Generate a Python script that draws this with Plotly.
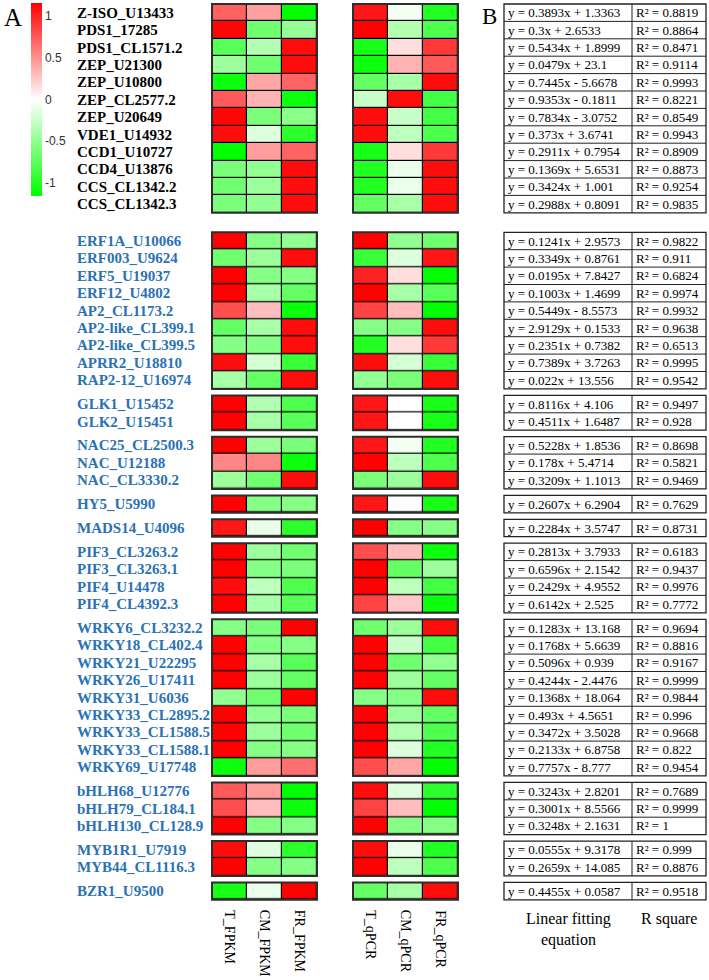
import plotly.graph_objects as go

# ---------------- data ----------------
genes = [
    "Z-ISO_U13433", "PDS1_17285", "PDS1_CL1571.2", "ZEP_U21300", "ZEP_U10800",
    "ZEP_CL2577.2", "ZEP_U20649", "VDE1_U14932", "CCD1_U10727", "CCD4_U13876",
    "CCS_CL1342.2", "CCS_CL1342.3",
    "ERF1A_U10066", "ERF003_U9624", "ERF5_U19037", "ERF12_U4802", "AP2_CL1173.2",
    "AP2-like_CL399.1", "AP2-like_CL399.5", "APRR2_U18810", "RAP2-12_U16974",
    "GLK1_U15452", "GLK2_U15451",
    "NAC25_CL2500.3", "NAC_U12188", "NAC_CL3330.2",
    "HY5_U5990",
    "MADS14_U4096",
    "PIF3_CL3263.2", "PIF3_CL3263.1", "PIF4_U14478", "PIF4_CL4392.3",
    "WRKY6_CL3232.2", "WRKY18_CL402.4", "WRKY21_U22295", "WRKY26_U17411",
    "WRKY31_U6036", "WRKY33_CL2895.2", "WRKY33_CL1588.5", "WRKY33_CL1588.1",
    "WRKY69_U17748",
    "bHLH68_U12776", "bHLH79_CL184.1", "bHLH130_CL128.9",
    "MYB1R1_U7919", "MYB44_CL1116.3",
    "BZR1_U9500",
]
group_sizes = [12, 9, 2, 3, 1, 1, 4, 9, 3, 2, 1]

fpkm_T = [0.72, 1.13, -0.75, -0.45, -1.10, 0.75, 1.13, 1.10, -1.15, -0.60, -0.65, -0.60,
          1.15, -0.65, 1.15, 1.15, 0.80, -0.70, -0.55, 1.10, -0.40,
          1.15, 1.15,
          1.15, 0.55, -0.45,
          1.15,
          1.05,
          1.15, 1.15, 1.10, 1.15,
          -0.55, 1.15, 1.15, 1.15, -0.50, 1.15, 1.15, 1.15, -1.10,
          0.75, 0.80, 1.15,
          1.10, 1.15,
          -1.05]
fpkm_CM = [0.43, -0.65, -0.35, -0.65, 0.40, 0.35, -0.60, -0.15, 0.45, -0.50, -0.45, -0.50,
           -0.55, -0.45, -0.55, -0.40, 0.30, -0.40, -0.55, -0.20, -0.70,
           -0.35, -0.40,
           -0.45, 0.55, -0.65,
           -0.55,
           -0.10,
           -0.45, -0.55, -0.30, -0.40,
           -0.60, -0.55, -0.40, -0.45, -0.65, -0.50, -0.45, -0.55, 0.45,
           0.45, 0.30, -0.55,
           -0.15, -0.55,
           -0.10]
fpkm_FR = [-1.15, -0.48, 1.10, 1.10, 0.70, -1.10, -0.53, -0.95, 0.70, 1.10, 1.10, 1.10,
           -0.50, 1.10, -0.55, -0.70, -1.10, 1.10, 1.10, -0.90, 1.10,
           -0.80, -0.75,
           -0.60, -1.10, 1.10,
           -0.55,
           -0.95,
           -0.65, -0.60, -0.80, -0.75,
           1.15, -0.55, -0.75, -0.70, 1.15, -0.60, -0.65, -0.55, 0.65,
           -1.15, -1.10, -0.55,
           -0.95, -0.55,
           1.15]

qpcr_T = [1.05, 1.15, -1.05, -1.10, -0.70, -0.25, 1.10, 1.10, -1.05, -1.00, -1.00, -0.70,
          1.15, -0.90, 1.00, 1.15, 0.85, -0.55, -1.00, 1.10, -0.50,
          1.05, 1.05,
          1.05, 1.15, -0.60,
          1.05,
          1.15,
          0.80, 1.15, 1.15, 0.85,
          -0.65, 1.15, 1.15, 1.15, -0.55, 1.15, 1.15, 1.15, 0.80,
          1.10, 0.85, 1.15,
          1.10, 1.15,
          -0.70]
qpcr_CM = [-0.05, -0.35, 0.15, 0.35, -0.40, 1.10, -0.25, -0.30, 0.15, -0.10, -0.10, -0.40,
           -0.50, -0.15, 0.15, -0.40, 0.30, -0.55, 0.15, -0.20, -0.60,
           0.00, 0.00,
           -0.05, -0.30, -0.45,
           0.00,
           -0.55,
           0.30, -0.70, -0.30, 0.25,
           -0.45, -0.25, -0.65, -0.45, -0.55, -0.45, -0.35, -0.15, 0.40,
           -0.15, 0.30, -0.55,
           -0.10, -0.30,
           -0.40]
qpcr_FR = [-1.00, -0.80, 0.90, 0.75, 1.10, -0.85, -0.85, -0.80, 0.90, 1.10, 1.10, 1.10,
           -0.65, 1.05, -1.15, -0.75, -1.15, 1.10, 0.90, -0.90, 1.10,
           -1.05, -1.05,
           -1.00, -0.80, 1.10,
           -1.05,
           -0.55,
           -1.10, -0.45, -0.85, -1.10,
           1.10, -0.85, -0.50, -0.70, 1.10, -0.70, -0.80, -1.00, -1.15,
           -0.95, -1.15, -0.55,
           -1.00, -0.80,
           1.10]

samples_fpkm = ["T_FPKM", "CM_FPKM", "FR_FPKM"]
samples_qpcr = ["T_qPCR", "CM_qPCR", "FR_qPCR"]

equations = [
    "y = 0.3893x + 1.3363", "y = 0.3x + 2.6533", "y = 0.5434x + 1.8999", "y = 0.0479x + 23.1",
    "y = 0.7445x - 5.6678", "y = 0.9353x - 0.1811", "y = 0.7834x - 3.0752", "y = 0.373x + 3.6741",
    "y = 0.2911x + 0.7954", "y = 0.1369x + 5.6531", "y = 0.3424x + 1.001", "y = 0.2988x + 0.8091",
    "y = 0.1241x + 2.9573", "y = 0.3349x + 0.8761", "y = 0.0195x + 7.8427", "y = 0.1003x + 1.4699",
    "y = 0.5449x - 8.5573", "y = 2.9129x + 0.1533", "y = 0.2351x + 0.7382", "y = 0.7389x + 3.7263",
    "y = 0.022x + 13.556",
    "y = 0.8116x + 4.106", "y = 0.4511x + 1.6487",
    "y = 0.5228x + 1.8536", "y = 0.178x + 5.4714", "y = 0.3209x + 1.1013",
    "y = 0.2607x + 6.2904",
    "y = 0.2284x + 3.5747",
    "y = 0.2813x + 3.7933", "y = 0.6596x + 2.1542", "y = 0.2429x + 4.9552", "y = 0.6142x + 2.525",
    "y = 0.1283x + 13.168", "y = 0.1768x + 5.6639", "y = 0.5096x + 0.939", "y = 0.4244x - 2.4476",
    "y = 0.1368x + 18.064", "y = 0.493x + 4.5651", "y = 0.3472x + 3.5028", "y = 0.2133x + 6.8758",
    "y = 0.7757x - 8.777",
    "y = 0.3243x + 2.8201", "y = 0.3001x + 8.5566", "y = 0.3248x + 2.1631",
    "y = 0.0555x + 9.3178", "y = 0.2659x + 14.085",
    "y = 0.4455x + 0.0587",
]
r_squared = [
    "0.8819", "0.8864", "0.8471", "0.9114", "0.9993", "0.8221", "0.8549", "0.9943",
    "0.8909", "0.8873", "0.9254", "0.9835",
    "0.9822", "0.911", "0.6824", "0.9974", "0.9932", "0.9638", "0.6513", "0.9995", "0.9542",
    "0.9497", "0.928",
    "0.8698", "0.5821", "0.9469",
    "0.7629",
    "0.8731",
    "0.6183", "0.9437", "0.9976", "0.7772",
    "0.9694", "0.8816", "0.9167", "0.9999", "0.9844", "0.996", "0.9668", "0.822", "0.9454",
    "0.7689", "0.9999", "1",
    "0.999", "0.8876",
    "0.9518",
]
colorbar_ticks = [-1, -0.5, 0, 0.5, 1]

# ---------------- layout constants ----------------
W, H = 709, 980
ROW_H = 17.4
TOP = 4.0
FIRST_GAP = 19.5
GAP = 6.5
CELL_W = 35.0
HM_X = [212.0, 353.0]
TAB_X0, TAB_XM, TAB_X1 = 504.0, 632.0, 706.0
LABEL_X = 75.0
SERIF = "Times New Roman, Liberation Serif, serif"
BLUE = "#2a72b5"
ZMAX = 1.155

tops = []
y = TOP
for gi, n in enumerate(group_sizes):
    tops.append(y)
    y += n * ROW_H + (FIRST_GAP if gi == 0 else GAP)

fig = go.Figure()
shapes = []
annotations = []

panels = [(HM_X[0], [fpkm_T, fpkm_CM, fpkm_FR]), (HM_X[1], [qpcr_T, qpcr_CM, qpcr_FR])]

start = 0
for gi, n in enumerate(group_sizes):
    top = tops[gi]
    bottom = top + n * ROW_H
    idx = list(range(start, start + n))
    for px, cols in panels:
        z = [[cols[c][i] for c in range(3)] for i in idx]
        x1 = px + 3 * CELL_W
        shapes.append(dict(type="rect", xref="x", yref="y", x0=px, x1=x1, y0=top, y1=bottom,
                           fillcolor="black", line=dict(width=0), layer="below"))
        fig.add_trace(go.Heatmap(
            z=z, x0=px + CELL_W / 2, dx=CELL_W, y0=top + ROW_H / 2, dy=ROW_H,
            coloraxis="coloraxis", xgap=1.2, ygap=1.2,
            hovertemplate="%{z}<extra></extra>"))
        shapes.append(dict(type="rect", xref="x", yref="y", x0=px, x1=x1, y0=top, y1=bottom,
                           line=dict(color="#2e2e2e", width=2), layer="above"))
    # gene labels
    color = "black" if gi == 0 else BLUE
    for r, i in enumerate(idx):
        annotations.append(dict(
            x=LABEL_X, y=top + ROW_H * (r + 0.5), xref="x", yref="y",
            text="<b>%s</b>" % genes[i], showarrow=False, xanchor="left", yanchor="middle",
            font=dict(family=SERIF, size=15, color=color)))
    # table
    shapes.append(dict(type="rect", xref="x", yref="y", x0=TAB_X0, x1=TAB_X1, y0=top, y1=bottom,
                       line=dict(color="#222", width=1.3)))
    shapes.append(dict(type="line", xref="x", yref="y", x0=TAB_XM, x1=TAB_XM, y0=top, y1=bottom,
                       line=dict(color="#222", width=1)))
    for r in range(1, n):
        yy = top + r * ROW_H
        shapes.append(dict(type="line", xref="x", yref="y", x0=TAB_X0, x1=TAB_X1, y0=yy, y1=yy,
                           line=dict(color="#222", width=1)))
    for r, i in enumerate(idx):
        yc = top + ROW_H * (r + 0.5)
        annotations.append(dict(x=TAB_X0 + 1.5, y=yc, xref="x", yref="y", text=equations[i],
                                showarrow=False, xanchor="left", yanchor="middle",
                                font=dict(family=SERIF, size=13, color="black")))
        annotations.append(dict(x=TAB_XM + 1.5, y=yc, xref="x", yref="y", text="R² = " + r_squared[i],
                                showarrow=False, xanchor="left", yanchor="middle",
                                font=dict(family=SERIF, size=13, color="black")))
    start += n

last_bottom = tops[-1] + group_sizes[-1] * ROW_H

# sample labels (rotated)
for px, names in [(HM_X[0], samples_fpkm), (HM_X[1], samples_qpcr)]:
    for c, name in enumerate(names):
        annotations.append(dict(x=px + CELL_W * (c + 0.5), y=last_bottom + 8, xref="x", yref="y",
                                text=name, textangle=90, showarrow=False,
                                xanchor="center", yanchor="top",
                                font=dict(family=SERIF, size=14, color="black")))

annotations.append(dict(x=(TAB_X0 + TAB_XM) / 2, y=last_bottom + 8, xref="x", yref="y",
                        text="Linear fitting<br>equation", showarrow=False, xanchor="center",
                        yanchor="top", align="center",
                        font=dict(family=SERIF, size=16, color="black")))
annotations.append(dict(x=(TAB_XM + TAB_X1) / 2, y=last_bottom + 8, xref="x", yref="y",
                        text="R square", showarrow=False, xanchor="center", yanchor="top",
                        font=dict(family=SERIF, size=16, color="black")))

# panel letters
annotations.append(dict(x=2, y=2, xref="x", yref="y", text="A", showarrow=False,
                        xanchor="left", yanchor="top", font=dict(family=SERIF, size=25, color="black")))
annotations.append(dict(x=480, y=2, xref="x", yref="y", text="B", showarrow=False,
                        xanchor="left", yanchor="top", font=dict(family=SERIF, size=23, color="black")))

fig.update_layout(
    width=W, height=H, margin=dict(l=0, r=0, t=0, b=0),
    paper_bgcolor="white", plot_bgcolor="white",
    xaxis=dict(range=[0, W], visible=False, fixedrange=True),
    yaxis=dict(range=[H, 0], visible=False, fixedrange=True),
    coloraxis=dict(
        cmin=-ZMAX, cmax=ZMAX,
        colorscale=[[0, "rgb(0,255,0)"], [0.5, "rgb(255,255,255)"], [1, "rgb(255,0,0)"]],
        colorbar=dict(
            x=31 / W, xanchor="left", y=1 - 3 / H, yanchor="top",
            len=193, lenmode="pixels", thickness=11, thicknessmode="pixels",
            outlinewidth=0, xpad=0, ypad=0, ticks="",
            tickvals=colorbar_ticks, ticktext=[str(t) for t in colorbar_ticks],
            tickfont=dict(family="Arial, Liberation Sans, sans-serif", size=12, color="#333"),
        ),
    ),
    shapes=shapes, annotations=annotations, showlegend=False,
)

fig.write_html(
    "out.html",
    config={"displayModeBar": False},
    post_script="document.body.style.margin='0px';document.body.style.overflow='hidden';",
)
